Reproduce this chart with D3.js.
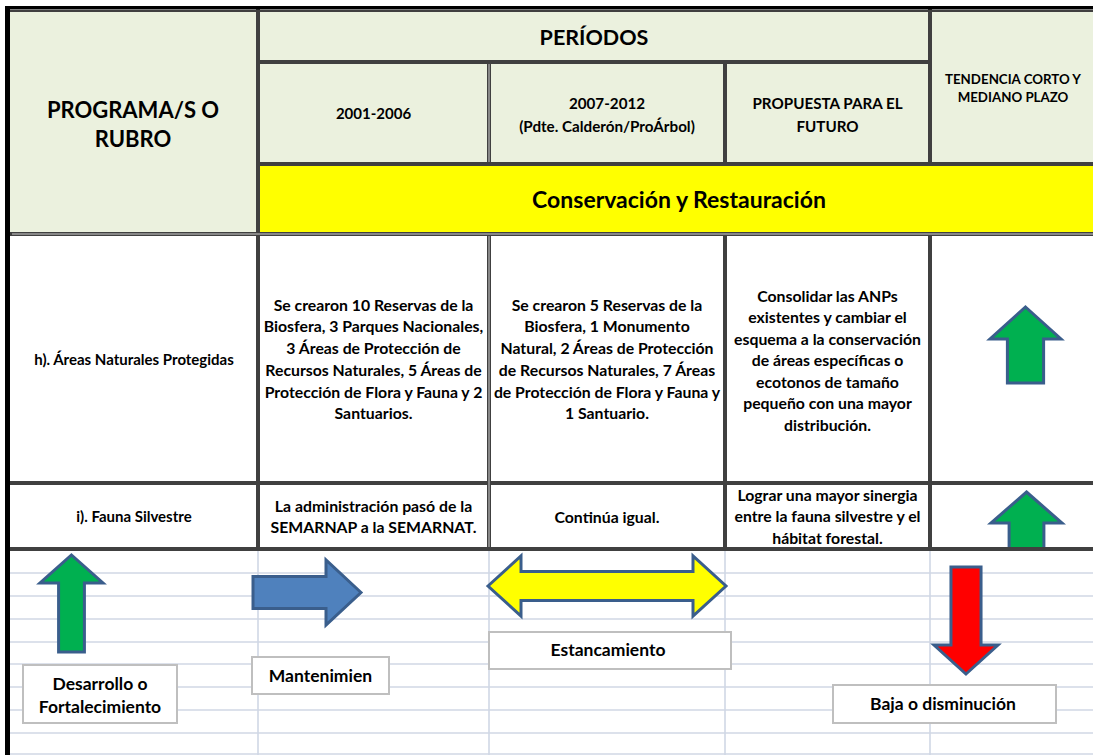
<!DOCTYPE html>
<html><head><meta charset="utf-8">
<script src="https://cdn.jsdelivr.net/npm/d3@7"></script>
<style>html,body{margin:0;padding:0;background:#fff;overflow:hidden}svg{display:block}text{font-family:Lato,"Open Sans",sans-serif;font-weight:bold;fill:#000}</style>
</head><body><svg id="c" width="1093" height="755"></svg>
<script>
// ---------- DATA ----------
const groupTitle = "PERÍODOS";
const rowHeader = ["PROGRAMA/S O", "RUBRO"];
const periodHeaders = [["2001-2006"], ["2007-2012", "(Pdte. Calderón/ProÁrbol)"], ["PROPUESTA PARA EL", "FUTURO"]];
const trendHeader = ["TENDENCIA CORTO Y", "MEDIANO PLAZO"];
const sectionTitle = "Conservación y Restauración";
const programs = ["h). Áreas Naturales Protegidas", "i). Fauna Silvestre"];
const period1Text = [
  ["Se crearon 10 Reservas de la", "Biosfera, 3 Parques Nacionales,", "3 Áreas de Protección de", "Recursos Naturales, 5 Áreas de", "Protección de Flora y Fauna y 2", "Santuarios."],
  ["La administración pasó de la", "SEMARNAP a la SEMARNAT."]
];
const period2Text = [
  ["Se crearon 5 Reservas de la", "Biosfera, 1 Monumento", "Natural, 2 Áreas de Protección", "de Recursos Naturales, 7 Áreas", "de Protección de Flora y Fauna y", "1 Santuario."],
  ["Continúa igual."]
];
const proposalText = [
  ["Consolidar las ANPs", "existentes y cambiar el", "esquema a la conservación", "de áreas específicas o", "ecotonos de tamaño", "pequeño con una mayor", "distribución."],
  ["Lograr una mayor sinergia", "entre la fauna silvestre y el", "hábitat forestal."]
];
const trends = ["up", "up"];
const legendLabels = [["Desarrollo o", "Fortalecimiento"], ["Mantenimien"], ["Estancamiento"], ["Baja o disminución"]];
const legendDirections = ["up", "right", "both", "down"];

// ---------- LAYOUT ----------
const svg = d3.select("#c");
const colKeys = ["program", "p1", "p2", "p3", "trend", "end"];
const X = d3.scaleOrdinal().domain(colKeys).range([10, 258, 489, 725, 930, 1100]);
const rowKeys = ["top", "periodos", "sub", "section", "h", "i", "bottom"];
const Y = d3.scaleOrdinal().domain(rowKeys).range([11, 62, 164, 234, 483, 549, 755]);
const LINE = "#404040", HEAD_BG = "#EBF1DE", YELLOW = "#FFFF00";
const OUT = "#3A5E8C";
const arrowFill = {up: "#00B050", right: "#4F81BD", both: "#FFFF00", down: "#FF0000"};

// backgrounds
svg.append("rect").attr("x", X("program")).attr("y", Y("top")).attr("width", 1093 - X("program")).attr("height", Y("section") - Y("top")).attr("fill", HEAD_BG);
svg.append("rect").attr("x", X("p1")).attr("y", Y("sub")).attr("width", 1093 - X("p1")).attr("height", Y("section") - Y("sub")).attr("fill", YELLOW);

// excel gridlines below the table
const gridY = [573, 596, 619, 642, 664, 687, 710, 733, 754];
svg.append("g").selectAll("line").data(gridY).join("line")
  .attr("x1", X("program")).attr("x2", 1093).attr("y1", d => d).attr("y2", d => d)
  .attr("stroke", "#D0D7E5").attr("stroke-width", 1.6);
svg.append("g").selectAll("line").data(["p1", "p2", "p3", "trend"]).join("line")
  .attr("x1", d => X(d)).attr("x2", d => X(d)).attr("y1", Y("i")).attr("y2", 755)
  .attr("stroke", "#D0D7E5").attr("stroke-width", 1.6);

// text helper
function lines(g, arr, cx, cy, size, lh) {
  const n = arr.length;
  g.append("g").selectAll("text").data(arr).join("text")
    .attr("x", cx).attr("y", (d, i) => cy + (i - (n - 1) / 2) * lh)
    .attr("text-anchor", "middle").attr("dominant-baseline", "central")
    .style("font-size", size + "px").text(d => d);
}
const mid = (a, b) => (a + b) / 2;

// arrows
function arrowPath(dir, x0, y0, x1, y1, head, frac) {
  const cx = mid(x0, x1), cy = mid(y0, y1);
  let p;
  if (dir === "up") { const s = (x1 - x0) * frac / 2;
    p = [[cx, y0], [x1, y0 + head], [cx + s, y0 + head], [cx + s, y1], [cx - s, y1], [cx - s, y0 + head], [x0, y0 + head]]; }
  else if (dir === "down") { const s = (x1 - x0) * frac / 2;
    p = [[cx, y1], [x1, y1 - head], [cx + s, y1 - head], [cx + s, y0], [cx - s, y0], [cx - s, y1 - head], [x0, y1 - head]]; }
  else if (dir === "right") { const s = (y1 - y0) * frac / 2;
    p = [[x1, cy], [x1 - head, y0], [x1 - head, cy - s], [x0, cy - s], [x0, cy + s], [x1 - head, cy + s], [x1 - head, y1]]; }
  else { const s = (y1 - y0) * frac / 2;
    p = [[x0, cy], [x0 + head, y0], [x0 + head, cy - s], [x1 - head, cy - s], [x1 - head, y0], [x1, cy], [x1 - head, y1], [x1 - head, cy + s], [x0 + head, cy + s], [x0 + head, y1]]; }
  return d3.line()(p) + "Z";
}

// header texts
lines(svg, rowHeader, mid(X("program"), X("p1")) - 1, 124, 22, 29.5);
lines(svg, [groupTitle], mid(X("p1"), X("trend")), 37, 21.5, 20);
periodHeaders.forEach((h, i) => {
  const a = colKeys[i + 1], b = colKeys[i + 2];
  lines(svg, h, mid(X(a), X(b)), i === 0 ? 113 : 114.5, i === 0 ? 15 : 15.2, 23.5);
});
lines(svg, trendHeader, X("trend") + 83, 88, 13.3, 18.5);
lines(svg, [sectionTitle], 679, 199, 23, 20);

// body texts
const rowBands = [["section", "h"], ["h", "i"]];
programs.forEach((p, r) => {
  const cy = mid(Y(rowBands[r][0]), Y(rowBands[r][1]));
  lines(svg, [p], mid(X("program"), X("p1")), cy + (r === 0 ? 0 : -0.5), 15, 21);
  lines(svg, period1Text[r], mid(X("p1"), X("p2")), cy, 15.8, 21.7);
  lines(svg, period2Text[r], mid(X("p2"), X("p3")), cy, 15.8, 21.7);
  lines(svg, proposalText[r], mid(X("p3"), X("trend")), cy + (r === 0 ? 1 : -0.5), 15.8, 21.5);
});

// trend arrows in table
const trendBoxes = [[990, 307, 1061, 383, 32, 0.51], [991, 492, 1062, 549, 31, 0.49]];
svg.append("g").selectAll("path").data(trends).join("path")
  .attr("d", (d, i) => arrowPath(d, ...trendBoxes[i]))
  .attr("fill", d => arrowFill[d]).attr("stroke", OUT).attr("stroke-width", 3).attr("stroke-linejoin", "miter");

// table lines
const hLines = [
  ["top", "program", 1093], ["periodos", "p1", "trend"], ["sub", "p1", 1093],
  ["section", "program", 1093], ["h", "program", 1093], ["i", "program", 1093]
];
svg.append("g").selectAll("line").data(hLines).join("line")
  .attr("x1", d => typeof d[1] === "string" ? X(d[1]) - 2 : d[1]).attr("x2", d => typeof d[2] === "string" ? X(d[2]) + 2 : d[2])
  .attr("y1", d => Y(d[0])).attr("y2", d => Y(d[0]))
  .attr("stroke", LINE).attr("stroke-width", d => d[0] === "top" ? 2 : 4);
const vLines = [
  ["p1", "top", "i"], ["p2", "periodos", "sub"], ["p2", "section", "i"],
  ["p3", "periodos", "sub"], ["p3", "section", "i"], ["trend", "top", "sub"], ["trend", "section", "i"]
];
svg.append("g").selectAll("line").data(vLines).join("line")
  .attr("x1", d => X(d[0])).attr("x2", d => X(d[0]))
  .attr("y1", d => Y(d[1]) - 2).attr("y2", d => Y(d[2]) + 2)
  .attr("stroke", LINE).attr("stroke-width", 4);
// double-line effect
svg.append("g").selectAll("line").data([["p2", "periodos", "sub"], ["p2", "section", "i"]]).join("line")
  .attr("x1", d => X(d[0])).attr("x2", d => X(d[0]))
  .attr("y1", d => Y(d[1]) + 2).attr("y2", d => Y(d[2]) - 2)
  .attr("stroke", "#cfcfcf").attr("stroke-width", 1);
svg.append("line").attr("x1", X("program") + 2).attr("x2", 1093).attr("y1", Y("section")).attr("y2", Y("section"))
  .attr("stroke", "#cfcfcf").attr("stroke-width", 1);

// outer black border
svg.append("rect").attr("x", 5).attr("y", 6).attr("width", 1093 - 5).attr("height", 3.5).attr("fill", "#000");
svg.append("rect").attr("x", 5).attr("y", 6).attr("width", 5).attr("height", 755 - 6).attr("fill", "#000");

// legend arrows
const legendBoxes = [[40, 555, 103, 652, 28, 0.41], [253, 560, 361, 625, 35, 0.49], [488, 556, 726, 616, 33, 0.48], [934, 567, 998, 674, 29, 0.47]];
svg.append("g").selectAll("path").data(legendDirections).join("path")
  .attr("d", (d, i) => arrowPath(d, ...legendBoxes[i]))
  .attr("fill", d => arrowFill[d]).attr("stroke", OUT).attr("stroke-width", 3);

// legend label boxes
const labelBoxes = [[23, 665, 177, 723], [252, 657, 389, 694], [489, 632, 731, 669], [833, 685, 1056, 723]];
const lg = svg.append("g").selectAll("g").data(legendLabels).join("g");
lg.append("rect")
  .attr("x", (d, i) => labelBoxes[i][0]).attr("y", (d, i) => labelBoxes[i][1])
  .attr("width", (d, i) => labelBoxes[i][2] - labelBoxes[i][0]).attr("height", (d, i) => labelBoxes[i][3] - labelBoxes[i][1])
  .attr("fill", "#fff").attr("stroke", "#BFBFBF").attr("stroke-width", 2);
lg.each(function (d, i) {
  const b = labelBoxes[i];
  const cy = i === 0 ? 694.5 : (i === 2 ? 649 : (i === 1 ? 675 : 703));
  const cx = i === 2 ? 608 : (i === 3 ? 943 : mid(b[0], b[2]));
  lines(d3.select(this), d, cx, cy, 17.5, 23);
});
</script></body></html>
